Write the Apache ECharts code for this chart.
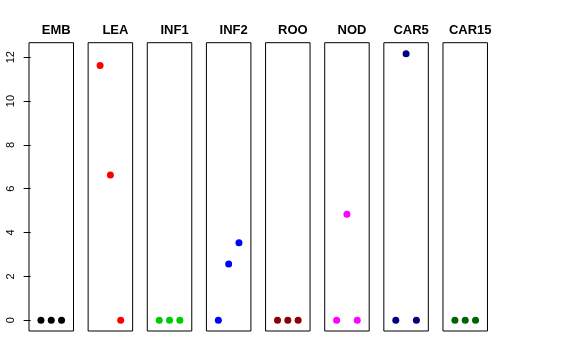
<!DOCTYPE html>
<html>
<head>
<meta charset="utf-8">
<script src="https://cdn.jsdelivr.net/npm/echarts@6/dist/echarts.min.js"></script>
<style>html,body{margin:0;padding:0;background:#fff}#c{width:576px;height:360px}</style>
</head>
<body>
<div id="c"></div>
<script>
var panels = ['EMB', 'LEA', 'INF1', 'INF2', 'ROO', 'NOD', 'CAR5', 'CAR15'];
var xPositions = [1, 2, 3];
var EMB = [0, 0, 0];
var LEA = [11.62, 6.63, 0];
var INF1 = [0, 0, 0];
var INF2 = [0, 2.57, 3.54];
var ROO = [0, 0, 0];
var NOD = [0, 4.84, 0];
var CAR5 = [0, 12.16, 0];
var CAR15 = [0, 0, 0];
var panelValues = [EMB, LEA, INF1, INF2, ROO, NOD, CAR5, CAR15];
var panelColors = ['#000000', '#FF0000', '#00CD00', '#0000FF', '#8B0000', '#FF00FF', '#000080', '#006400'];
var yTicks = [0, 2, 4, 6, 8, 10, 12];

var chart = echarts.init(document.getElementById('c'), null, {renderer: 'canvas'});
var grids = [], xAxes = [], yAxes = [], series = [], titles = [];
var gLeft0 = 29, gStep = 59.14, gW = 44.5, gTop = 42.7, gH = 288.3;
panels.forEach(function (name, i) {
  var L = gLeft0 + i * gStep;
  grids.push({left: L, top: gTop, width: gW, height: gH, show: true, borderColor: '#000', borderWidth: 1, backgroundColor: 'transparent'});
  xAxes.push({type: 'value', gridIndex: i, min: -0.16, max: 4.16, show: false});
  yAxes.push({
    type: 'value', gridIndex: i, min: -0.49, max: 12.66, show: i === 0,
    splitLine: {show: false},
    axisLine: {show: false},
    axisTick: {show: i === 0, length: 7, inside: false, customValues: yTicks, lineStyle: {color: '#000', width: 1}},
    axisLabel: {show: i === 0, customValues: yTicks, rotate: 90, margin: 13, color: '#000', fontSize: 11, fontFamily: 'Liberation Sans, Arial, sans-serif'}
  });
  series.push({
    type: 'scatter', xAxisIndex: i, yAxisIndex: i, symbol: 'circle', symbolSize: 7,
    itemStyle: {color: panelColors[i], opacity: 1},
    data: xPositions.map(function (x, k) { return [x, panelValues[i][k]]; }),
    animation: false
  });
  titles.push({
    text: name, left: L + gW / 2, top: 19, textAlign: 'center',
    textStyle: {fontSize: 13, fontWeight: 'bold', color: '#000', fontFamily: 'Liberation Sans, Arial, sans-serif'}
  });
});
chart.setOption({
  animation: false,
  backgroundColor: '#fff',
  title: titles,
  grid: grids,
  xAxis: xAxes,
  yAxis: yAxes,
  series: series
});
</script>
</body>
</html>
